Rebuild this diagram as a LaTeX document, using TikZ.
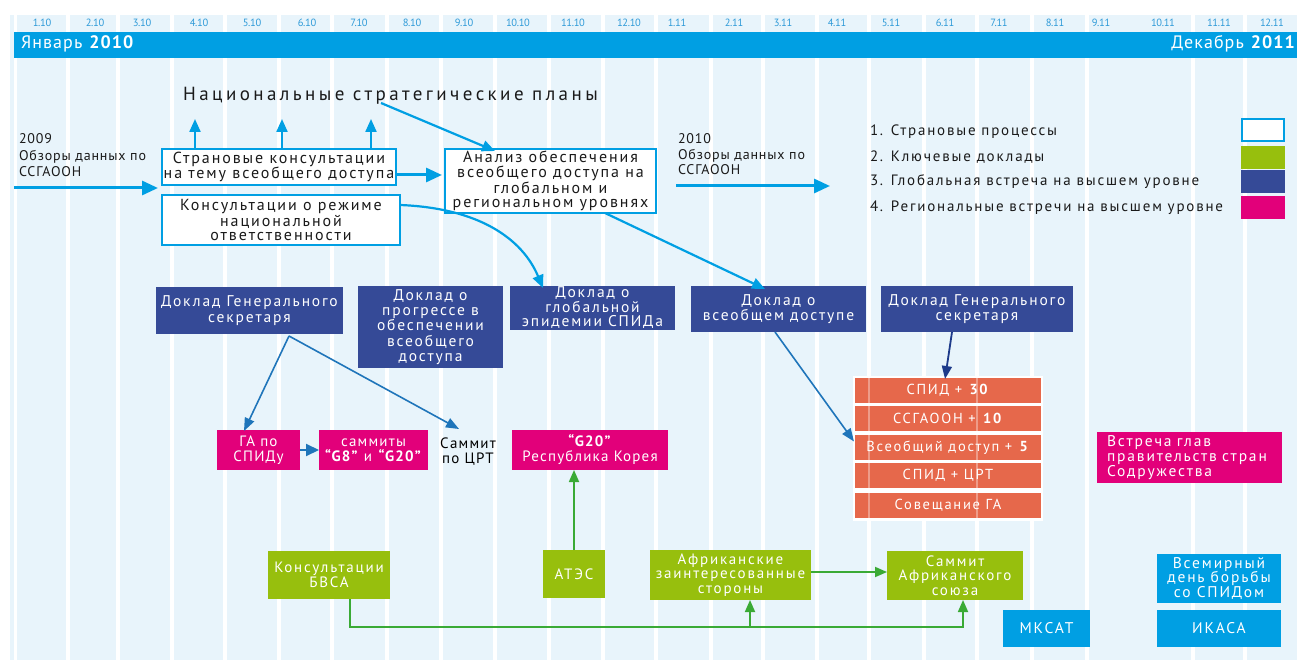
\documentclass[tikz,border=0pt]{standalone}
\usepackage{fontspec}
\setmainfont{PT Sans}[LetterSpace=12]
\newfontfamily\plainfont{PT Sans}[LetterSpace=6]
\newfontfamily\pinkfont{PT Sans}[LetterSpace=8]
\newfontfamily\titlefont{PT Sans}[LetterSpace=18]
\newfontfamily\monthfont{PT Sans}[LetterSpace=-3]
\usetikzlibrary{arrows.meta}
\definecolor{colbg}{HTML}{E8F4FB}
\definecolor{cyanb}{HTML}{009FE3}
\definecolor{monthc}{HTML}{2E9AD8}
\definecolor{navyc}{HTML}{354A97}
\definecolor{pinkc}{HTML}{E2007A}
\definecolor{greenc}{HTML}{97BF0D}
\definecolor{greenl}{HTML}{3AAA35}
\definecolor{redc}{HTML}{E55F40}
\definecolor{arrowblue}{HTML}{1F75BA}
\definecolor{darknavy}{HTML}{1D3A8A}
\definecolor{textc}{HTML}{1A1A1A}
\newcommand\fsz[2]{\fontsize{#1}{#2}\selectfont}
\begin{document}
\begin{tikzpicture}[x=1pt,y=-1pt,
 every node/.style={inner sep=0pt, outer sep=0pt, align=center},
 proc/.style={draw=cyanb, line width=2.4pt, fill=white, text=textc, font=\fsz{16}{14}},
 navyb/.style={fill=navyc, text=white, font=\fsz{15.5}{15.3}},
 pinkb/.style={fill=pinkc, text=white, font=\pinkfont\fsz{15}{15}},
 greenb/.style={fill=greenc, text=white, font=\fsz{15}{14.5}},
 cyanbx/.style={fill=cyanb, text=white, font=\fsz{15.5}{14.5}},
 redrow/.style={fill=redc, fill opacity=0.94, text opacity=1, text=white, font=\fsz{14.5}{14}, minimum width=186pt, minimum height=25pt},
 legbox/.style={minimum width=44pt, minimum height=23pt},
 legtext/.style={anchor=west, text=textc, font=\fsz{15}{15}},
 month/.style={text=monthc, font=\monthfont\fsz{10.5}{10.5}},
 bigarr/.style={draw=cyanb, line width=3pt, -{Triangle[length=16pt,width=14pt]}},
 midarr/.style={draw=cyanb, line width=2.2pt, -{Triangle[length=13pt,width=11pt]}},
 thinarr/.style={draw=arrowblue, line width=1.6pt, -{Triangle[length=13pt,width=10pt]}},
 gline/.style={draw=greenl, line width=1.8pt},
 garr/.style={gline, -{Triangle[length=12pt,width=10pt]}},
]
\useasboundingbox (0,0) rectangle (1297,660);
% background columns
\fill[colbg] (10,15) rectangle (1297,660);
\foreach \x in {15.5,68,118,172,225,279,332,387,441,495,549,603,656,711,763,817,869,924,977,1032,1087,1193,1245}
  \fill[white] (\x-1.7,15) rectangle (\x+1.7,660);
% month labels
\foreach \x/\t in {42/1.10,95/2.10,142/3.10,199/4.10,252/5.10,307/6.10,359/7.10,412/8.10,464/9.10,518/10.10,573/11.10,629/12.10,677/1.11,734/2.11,783/3.11,837/4.11,891/5.11,945/6.11,999/7.11,1055/8.11,1101/9.11,1163/10.11,1219/11.11,1272/12.11}
  \node[month] at (\x,23) {\t};
% band
\fill[cyanb] (14,32) rectangle (1297,58);
\node[anchor=west, text=white, font=\plainfont\fsz{18}{18}] (jan) at (21,44) {Январь \textbf{2010}};
\node[anchor=east, text=white, font=\plainfont\fsz{18}{18}] (dec) at (1296,44) {Декабрь \textbf{2011}};

% title
\node[text=textc, font=\titlefont\fsz{19}{19}] (nsp) at (390.5,96) {Национальные стратегические планы};

% left text
\node[anchor=north west, align=left, text=textc, font=\plainfont\fsz{14}{16.5}] (t2009) at (19,134) {2009\\Обзоры данных по\\ССГАООН};
\node[anchor=north west, align=left, text=textc, font=\plainfont\fsz{14}{15.5}] (t2010) at (678,134) {2010\\Обзоры данных по\\ССГАООН};

% process boxes
\node[proc, minimum width=234pt, minimum height=36pt] (strana) at (279,167) {Страновые консультации\\на тему всеобщего доступа};
\node[proc, minimum width=238pt, minimum height=50pt] (konsult) at (281,220) {Консультации о режиме\\национальной\\ответственности};
\node[proc, minimum width=211pt, minimum height=64pt, font=\fsz{16}{14.3}] (analiz) at (550.5,181) {Анализ обеспечения\\всеобщего доступа на\\глобальном и\\региональном уровнях};

% navy boxes
\node[navyb, minimum width=187pt, minimum height=47pt] (dgs1) at (249.5,310.5) {Доклад Генерального\\секретаря};
\node[navyb, minimum width=145pt, minimum height=82pt] (progr) at (430.5,327) {Доклад о\\прогрессе в\\обеспечении\\всеобщего\\доступа};
\node[navyb, minimum width=165pt, minimum height=44pt, font=\fsz{15.5}{14.5}] (glob) at (592.5,308) {Доклад о\\глобальной\\эпидемии СПИДа};
\node[navyb, minimum width=175pt, minimum height=46pt] (vseob) at (778.5,309) {Доклад о\\всеобщем доступе};
\node[navyb, minimum width=192pt, minimum height=46pt] (dgs2) at (977,309) {Доклад Генерального\\секретаря};

% pink boxes
\node[pinkb, minimum width=83pt, minimum height=40pt] (gaspid) at (258.5,450) {ГА по\\СПИДу};
\node[pinkb, minimum width=109pt, minimum height=40pt] (g8) at (373.5,450) {саммиты\\\textbf{“G8”} и \textbf{“G20”}};
\node[text=black, font=\pinkfont\fsz{15}{15}, minimum height=46pt] (crt) at (468,452) {Саммит\\по ЦРТ};
\node[pinkb, minimum width=156pt, minimum height=40pt] (g20) at (590,450) {\textbf{“G20”}\\Республика Корея};
\node[pinkb, minimum width=185pt, minimum height=51pt, align=left, text width=165pt, font=\fsz{15.5}{15}] (vstr) at (1189.5,457.5) {Встреча глав\\правительств стран\\Содружества};

% red stack
\fill[white] (853,375.5) rectangle (1043,520.5);
\node[redrow] (r1) at (948,390.5) {СПИД + \textbf{30}};
\node[redrow] (r2) at (948,418.5) {ССГАООН + \textbf{10}};
\node[redrow] (r3) at (948,447.5) {Всеобщий доступ + \textbf{5}};
\node[redrow] (r4) at (948,475.5) {СПИД + ЦРТ};
\node[redrow] (r5) at (948,505.5) {Совещание ГА};
\foreach \x in {869,977} \fill[white, opacity=0.35] (\x-1,378) rectangle (\x+1,518);

% green boxes
\node[greenb, minimum width=122pt, minimum height=48pt] (bvsa) at (329,575) {Консультации\\БВСА};
\node[greenb, minimum width=62pt, minimum height=48pt] (ates) at (574,574) {АТЭС};
\node[greenb, minimum width=161pt, minimum height=50pt] (afr) at (730.5,575) {Африканские\\заинтересованные\\стороны};
\node[greenb, minimum width=136pt, minimum height=49pt] (au) at (955,575.5) {Саммит\\Африканского\\союза};

% cyan boxes
\node[cyanbx, minimum width=87pt, minimum height=37pt] (mksat) at (1046.5,628.5) {МКСАТ};
\node[cyanbx, minimum width=124pt, minimum height=49pt] (vsem) at (1219,578.5) {Всемирный\\день борьбы\\со СПИДом};
\node[cyanbx, minimum width=124pt, minimum height=37pt] (ikasa) at (1219,628.5) {ИКАСА};

% legend
\node[legtext] (lt1) at (870,132) {1. Страновые процессы};
\node[legtext] (lt2) at (870,157) {2. Ключевые доклады};
\node[legtext] (lt3) at (870,182) {3. Глобальная встреча на высшем уровне};
\node[legtext] (lt4) at (870,208) {4. Региональные встречи на высшем уровне};
\node[legbox, draw=cyanb, line width=2pt, fill=white, minimum width=42pt, minimum height=22pt] (lb1) at (1263,130) {};
\node[legbox, fill=greenc] (lb2) at (1263,158) {};
\node[legbox, fill=navyc] (lb3) at (1263,182) {};
\node[legbox, fill=pinkc] (lb4) at (1263,208) {};

% coordinates for free ends
\coordinate (in09) at (14,188);
\coordinate (in09e) at (158,188);
\coordinate (in10) at (676,186);
\coordinate (in10e) at (830,186);
\coordinate (u1) at (195,119);
\coordinate (u2) at (282,119);
\coordinate (u3) at (371,119);
\coordinate (nss) at (381,103);
\coordinate (split) at ([xshift=39.5pt,yshift=-2pt]dgs1.south);
\coordinate (bus) at (750,627);

% blue arrows
\draw[bigarr] (in09) -- (in09e);
\draw[bigarr] (in10) -- (in10e);
\draw[midarr] (strana.north -| u1) -- (u1);
\draw[midarr] (strana.north -| u2) -- (u2);
\draw[midarr] (strana.north -| u3) -- (u3);
\draw[bigarr] ([yshift=-8pt]strana.east) -- ([yshift=6pt,xshift=-3pt]analiz.west);
\draw[midarr] (nss) -- ([xshift=-55.5pt,yshift=-2pt]analiz.north);
\draw[midarr] ([yshift=15pt]konsult.east) .. controls (478,208) and (522,238) .. ([xshift=-49.5pt,yshift=-2pt]glob.north);
\draw[midarr] ([xshift=54.5pt]analiz.south) -- ([xshift=-13.5pt,yshift=-3pt]vseob.north);
\draw[thinarr] (split) -- ([xshift=-14.5pt,yshift=-1pt]gaspid.north);
\draw[thinarr] (split) -- ([xshift=-9pt]crt.north);
\draw[draw=arrowblue, line width=2pt, -{Triangle[length=13pt,width=12pt]}] (gaspid.east) -- (g8.west);
\draw[thinarr] ([xshift=-3.5pt]vseob.south) -- ([yshift=6pt,xshift=-1pt]r3.west);
\draw[draw=darknavy, line width=1.8pt, -{Triangle[length=13pt,width=10pt]}] ([xshift=-25pt]dgs2.south) -- ([xshift=-3pt,yshift=-1pt]r1.north);

% green connectors
\draw[garr] (ates.north) -- (ates.north |- g20.south);
\draw[garr] ([yshift=3pt]afr.east) -- ([yshift=3.5pt]au.west);
\draw[garr] ([xshift=21pt]bvsa.south) |- (bus) -| ([xshift=8pt]au.south);
\draw[garr] (bus) -- (afr.south -| bus);
\end{tikzpicture}
\end{document}
